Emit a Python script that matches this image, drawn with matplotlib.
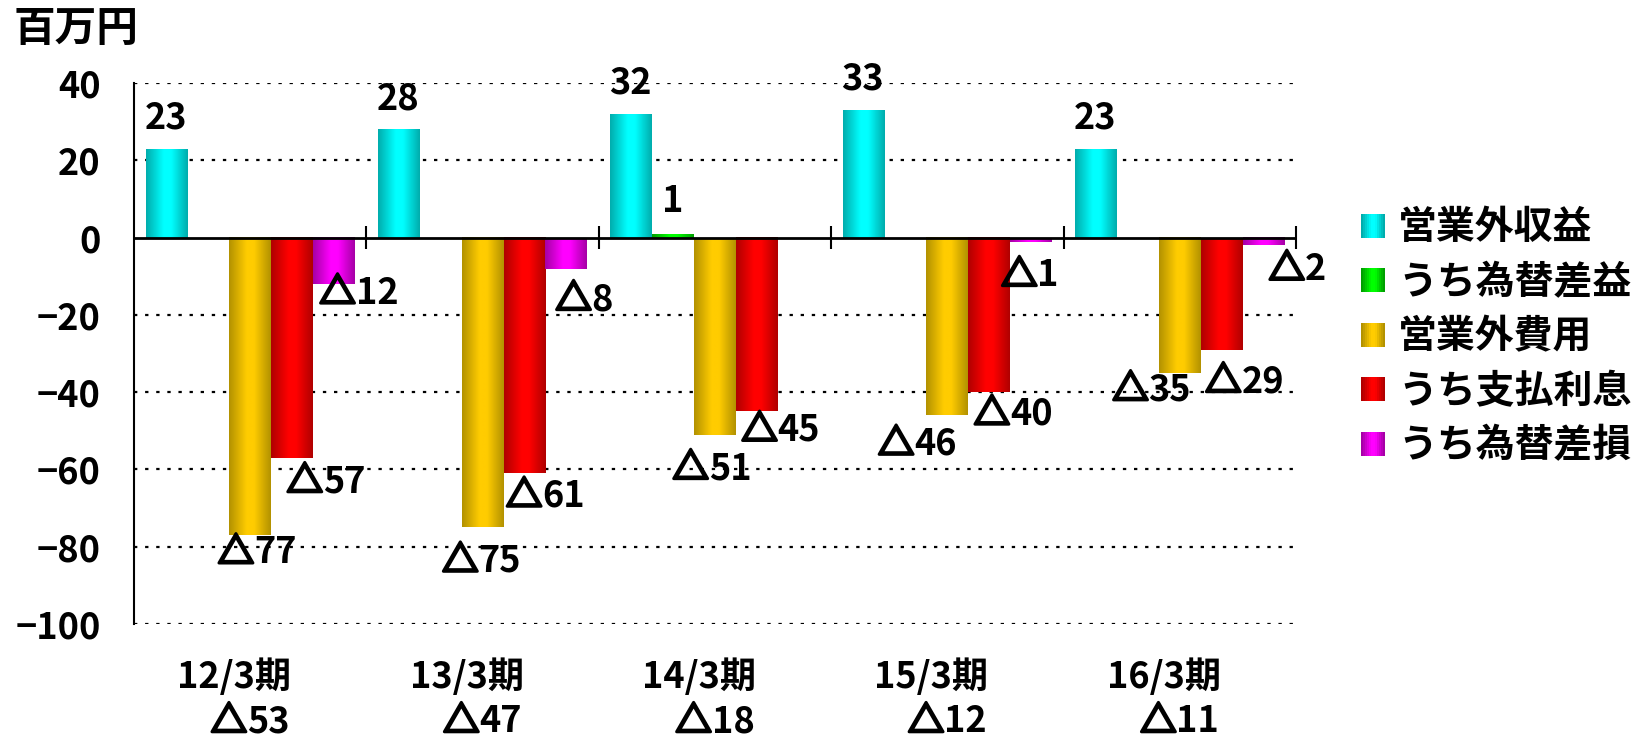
import numpy as np
import matplotlib
matplotlib.use("Agg")
import matplotlib.pyplot as plt
import matplotlib.patheffects as pe
from matplotlib.colors import LinearSegmentedColormap
from matplotlib.patches import Rectangle, Patch
from matplotlib.legend_handler import HandlerBase

plt.rcParams['font.family'] = ['Noto Sans CJK JP', 'DejaVu Sans']
plt.rcParams['font.weight'] = 'bold'

# data (百万円)
periods = ["12/3期", "13/3期", "14/3期", "15/3期", "16/3期"]
net_labels = ["△53", "△47", "△18", "△12", "△11"]
series_names = ["営業外収益", "うち為替差益", "営業外費用", "うち支払利息", "うち為替差損"]
non_op_income = [23, 28, 32, 33, 23]
fx_gain = [0, 0, 1, 0, 0]
non_op_expense = [-77, -75, -51, -46, -35]
interest_paid = [-57, -61, -45, -40, -29]
fx_loss = [-12, -8, 0, -1, -2]
y_ticks = [-100, -80, -60, -40, -20, 0, 20, 40]

all_series = [non_op_income, fx_gain, non_op_expense, interest_paid, fx_loss]

# (dark edge, bright centre) for the cylinder-like shading
shades = [("#00ADAD", "#00FFFF"),
          ("#00A000", "#00FF00"),
          ("#B39200", "#FFCC00"),
          ("#B00000", "#FF0000"),
          ("#A600A6", "#FF00FF")]

# label offsets from bar end in pixels (dx, dy down), hand placed like the source
label_offsets = [
    [(-1, -31)] * 5,
    [(0, -32)] * 5,
    [(7, 18), (-1, 34), (-3, 34), (-30, 29), (-28, 17)],
    [(34, 24), (21, 23), (24, 19), (24, 22), (23, 32)],
    [(25, 9), (18, 31), (0, 30), (-1, 34), (34, 24)],
]

FS = 26
FS_CJK = 28
DPI = 100
thick = [pe.withStroke(linewidth=2.2, foreground='black')]


def make_cmap(dark, bright):
    return LinearSegmentedColormap.from_list(
        "g", [(0, dark), (0.42, bright), (0.6, bright), (1, dark)])


class GradientSquare(HandlerBase):
    def __init__(self, cmap, side=17.3):
        super().__init__()
        self.cmap = cmap
        self.side = side

    def create_artists(self, legend, orig_handle, xdescent, ydescent,
                       width, height, fontsize, trans):
        n = 12
        x0 = width / 2 - xdescent - self.side / 2
        y0 = height / 2 - ydescent - self.side / 2
        w = self.side / n
        arts = []
        for k in range(n):
            r = Rectangle((x0 + k * w, y0), w * 1.05, self.side,
                          facecolor=self.cmap(k / (n - 1)), edgecolor='none',
                          transform=trans)
            arts.append(r)
        return arts


def put_label(ax, text, xy, xycoords, dx, dy, size=FS):
    """Centered label; a leading △ is drawn heavier, like the source font."""
    if not text.startswith("△"):
        return ax.annotate(text, xy=xy, xycoords=xycoords, xytext=(dx, dy),
                           textcoords='offset pixels', ha='center', va='center',
                           fontsize=size, fontweight='bold', zorder=5,
                           annotation_clip=False)
    em = size * DPI / 72
    num = ax.annotate(text[1:], xy=xy, xycoords=xycoords, xytext=(dx + em * 0.5, dy),
                      textcoords='offset pixels', ha='center', va='center',
                      fontsize=size, fontweight='bold', zorder=5,
                      annotation_clip=False)
    ax.annotate("△", xy=(0, 0.5), xycoords=num, ha='right', va='center',
                fontsize=size, fontweight='bold', zorder=5, path_effects=thick,
                annotation_clip=False)
    return num


fig = plt.figure(figsize=(16.44, 7.37), dpi=DPI)
ax = fig.add_axes([134 / 1644, 1 - 623.7 / 737, (1296 - 134) / 1644, (623.7 - 83.3) / 737])

x = np.arange(len(periods))
width = 0.18
cmaps = [make_cmap(d, b) for d, b in shades]
grad = np.linspace(0, 1, 64).reshape(1, -1)

for s, vals in enumerate(all_series):
    pos = x + (s - 2) * width
    bars = ax.bar(pos, vals, width, color='none', edgecolor='none', zorder=3)
    for i, (b, v) in enumerate(zip(bars, vals)):
        if v == 0:
            continue
        x0, x1 = b.get_x(), b.get_x() + b.get_width()
        y0, y1 = min(0, v), max(0, v)
        ax.imshow(grad, cmap=cmaps[s], extent=[x0, x1, y0, y1],
                  aspect='auto', zorder=3, interpolation='bilinear')
        txt = str(v) if v > 0 else "△" + str(abs(v))
        dx, dy = label_offsets[s][i]
        put_label(ax, txt, (pos[i], v), 'data', dx, -dy)

ax.set_xlim(-0.5, len(periods) - 0.5)
ax.set_ylim(-100, 40)
ax.set_yticks(y_ticks)
ax.set_xticks([])
ax.tick_params(axis='y', length=0, pad=24, labelsize=FS)
for lab in ax.get_yticklabels():
    lab.set_fontweight('bold')

for sp in ['top', 'right', 'bottom']:
    ax.spines[sp].set_visible(False)
ax.spines['left'].set_linewidth(1.5)

# dotted grid except zero, which is a solid axis line with group ticks
for t in y_ticks:
    if t != 0:
        ax.axhline(t, color='black', linestyle=(0, (1.5, 3.5)), linewidth=1.6, zorder=1)
ax.axhline(0, color='black', linewidth=2, zorder=4)
ax.vlines(x[1:] - 0.5, -3, 3, color='black', linewidth=1.5, zorder=4)
ax.vlines([len(periods) - 0.5], -3, 3, color='black', linewidth=1.5, zorder=4,
          clip_on=False)

# category labels, two lines
xt = ax.get_xaxis_transform()
for i in range(len(periods)):
    put_label(ax, periods[i], (x[i], 0), xt, -16, -53)
    put_label(ax, net_labels[i], (x[i], 0), xt, 0, -98)

fig.text(14 / 1644, 1 - 29 / 737, "百万円", fontsize=30, fontweight='bold',
         ha='left', va='center')

handles = [Patch(label=n) for n in series_names]
hmap = {h: GradientSquare(cm) for h, cm in zip(handles, cmaps)}
fig.legend(handles=handles, labels=series_names, handler_map=hmap,
           loc='center left', bbox_to_anchor=(1360 / 1644, 1 - 337 / 737),
           frameon=False, borderpad=0, borderaxespad=0, handlelength=0.67,
           handletextpad=0.31, labelspacing=0.4,
           prop={'size': FS_CJK, 'weight': 'bold'})

fig.savefig("out.png", dpi=DPI)
